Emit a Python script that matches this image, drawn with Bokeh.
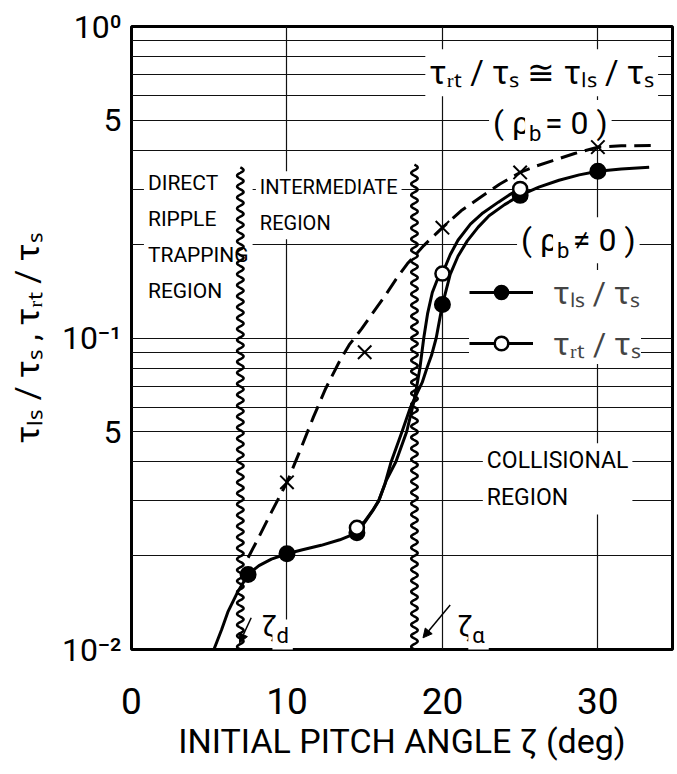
import numpy as np
from bokeh.plotting import figure
from bokeh.models import (Range1d, FixedTicker, ColumnDataSource, Legend, LegendItem,
                          Arrow, NormalHead)
from bokeh.core.properties import value
from bokeh.embed import file_html
from bokeh.resources import INLINE

FONT = "Roboto"

# ---------------------------------------------------------------- data points
# tau_ls / tau_s  (rho_b != 0), filled circles
zeta_ls = [7.5, 10.0, 14.5, 20.0, 25.0, 30.0]
ratio_ls = [0.0174, 0.0203, 0.0237, 0.128, 0.287, 0.343]
# tau_rt / tau_s  (rho_b != 0), open circles
zeta_rt = [14.5, 20.0, 25.0]
ratio_rt = [0.0246, 0.161, 0.301]
# tau_rt / tau_s = tau_ls / tau_s  (rho_b = 0), crosses
zeta_rb0 = [10.0, 15.0, 20.0, 25.0, 30.0]
ratio_rb0 = [0.0344, 0.090, 0.226, 0.340, 0.410]

# ------------------------------------------------------ hand-drawn fit curves
fit_ls_zeta = [5.3, 5.8, 6.2, 6.8, 7.5, 8.2, 9.0, 10.0, 11.0, 12.2, 13.4, 14.5,
               15.0, 15.5, 15.9, 16.3, 16.7, 17.4, 17.95, 18.4, 18.7, 19.0, 19.3,
               19.6, 20.0, 20.5, 21.0, 21.6, 22.3, 23.0, 24.0, 25.0, 26.2, 27.5,
               28.8, 30.0, 31.5, 33.3]
fit_ls_ratio = [0.0100, 0.0116, 0.0132, 0.0152, 0.0174, 0.0186, 0.0195, 0.0203,
                0.0209, 0.0216, 0.0225, 0.0237, 0.0256, 0.0278, 0.0300, 0.0340,
                0.0400, 0.0500, 0.0600, 0.0670, 0.0720, 0.0800, 0.0880, 0.1000,
                0.1280, 0.1600, 0.1830, 0.2050, 0.2270, 0.2470, 0.2680, 0.2870,
                0.3050, 0.3210, 0.3340, 0.3430, 0.3490, 0.3530]
fit_rt_zeta = [14.5, 15.0, 15.5, 15.9, 16.4, 17.0, 17.7, 18.15, 18.35, 18.55,
               18.8, 19.05, 19.35, 19.65, 20.0, 20.5, 21.0, 21.8, 22.6, 23.6,
               24.3, 25.0]
fit_rt_ratio = [0.0246, 0.0258, 0.0279, 0.0300, 0.0350, 0.0400, 0.0500, 0.0620,
                0.0700, 0.0800, 0.1000, 0.1200, 0.1400, 0.1530, 0.1610, 0.1850,
                0.2060, 0.2320, 0.2520, 0.2730, 0.2880, 0.3010]
fit_rb0_zeta = [7.5, 8.2, 9.0, 10.0, 10.8, 11.7, 12.5, 13.35, 14.0, 14.8, 15.5,
                16.24, 17.0, 17.74, 18.8, 20.0, 21.2, 22.45, 23.7, 25.0, 26.0,
                27.1, 28.5, 30.0, 31.5, 33.4]
fit_rb0_ratio = [0.0197, 0.0230, 0.0276, 0.0344, 0.0430, 0.0557, 0.0690, 0.0836,
                 0.0950, 0.1070, 0.1200, 0.1350, 0.1540, 0.1730, 0.1980, 0.2260,
                 0.2560, 0.2830, 0.3120, 0.3400, 0.3560, 0.3710, 0.3910, 0.4100,
                 0.4140, 0.4150]

# region boundaries zeta_d and zeta_alpha (deg) and the height they are drawn to
boundary_zeta = [7.0, 18.2]
boundary_top = [0.353, 0.36]

# axes
x_ticks = [0, 10, 20, 30]
x_grid = [10, 20, 30]
y_ticks = [0.01, 0.05, 0.1, 0.5, 1.0]
y_tick_labels = ["10\u207b\u00b2", "5", "10\u207b\u00b9", "5", "10\u2070"]
y_grid = [k * 0.01 for k in range(2, 10)] + [k * 0.1 for k in range(1, 10)]

p = figure(width=677, height=774, x_range=Range1d(0, 34.8), y_range=Range1d(0.01, 1.0),
           y_axis_type="log", output_backend="svg", toolbar_location=None,
           min_border_left=131, min_border_right=5, min_border_top=26,
           min_border_bottom=125)
p.background_fill_color = "white"
p.border_fill_color = "white"
p.outline_line_color = "black"
p.outline_line_width = 3

p.xgrid.ticker = FixedTicker(ticks=x_grid)
p.ygrid.ticker = FixedTicker(ticks=y_grid)
p.grid.grid_line_color = "#111111"
p.grid.grid_line_width = 1.2

for ax in (p.xaxis[0], p.yaxis[0]):
    ax.axis_line_color = None
    ax.major_tick_line_color = None
    ax.minor_tick_line_color = None
    ax.major_tick_out = 0
    ax.major_tick_in = 0
    ax.minor_tick_out = 0
    ax.major_label_text_font = FONT
    ax.axis_label_text_font = FONT
    ax.axis_label_text_font_style = "normal"
    ax.major_label_text_color = "black"
    ax.axis_label_text_color = "black"

p.xaxis.ticker = FixedTicker(ticks=x_ticks)
p.xaxis.major_label_text_font_size = "37px"
p.xaxis.major_label_standoff = 38
p.xaxis.axis_label = "INITIAL PITCH ANGLE \u03b6 (deg)"
p.xaxis.axis_label_text_font_size = "34px"
p.xaxis.axis_label_standoff = 4

p.yaxis.ticker = FixedTicker(ticks=y_ticks)
p.yaxis.major_label_overrides = dict(zip(y_ticks, y_tick_labels))
p.yaxis.major_label_text_font_size = "32px"
p.yaxis.major_label_standoff = 10
p.yaxis.axis_label = "\u03c4\u2097\u209b / \u03c4\u209b , \u03c4\u1d63\u209c / \u03c4\u209b"
p.yaxis.axis_label_text_font_size = "34px"
p.yaxis.axis_label_standoff = 12


def put_text(xs, ys, texts, size, dx=None, dy=None, bg=True, lh=1.2):
    n = len(texts)
    sizes = size if isinstance(size, list) else [size] * n
    src = ColumnDataSource(dict(x=xs, y=ys, text=texts, size=sizes,
                                dx=dx if dx is not None else [0] * n,
                                dy=dy if dy is not None else [0] * n))
    kw = dict(background_fill_color="white", padding=4) if bg else {}
    p.text(x="x", y="y", text="text", x_offset="dx", y_offset="dy", source=src,
           text_font=value(FONT), text_font_size="size", text_color="black",
           text_align="left", text_baseline="middle", text_line_height=lh, **kw)


# region names
put_text([0.8], [0.211], ["DIRECT\nRIPPLE\nTRAPPING\nREGION"], "21px", lh=1.5)
put_text([8.0], [0.267], ["INTERMEDIATE\nREGION"], "20px", lh=1.5)
put_text([22.6], [0.0353], ["COLLISIONAL\nREGION"], "23px", lh=1.35)

# equality note and rho_b conditions
put_text([18.9], [0.71], ["\u03c4\u1d63\u209c / \u03c4\u209b \u2245 \u03c4\u2097\u209b / \u03c4\u209b"], "33px")
put_text([23.0, 23.0, 23.0], [0.49, 0.49, 0.49], ["( \u03c1", "b", "= 0 )"],
         ["32px", "22px", "32px"], dx=[0, 36, 52], dy=[0, 10, 0])
put_text([24.8, 24.8, 24.8], [0.206, 0.206, 0.206], ["( \u03c1", "b", "\u2260 0 )"],
         ["32px", "22px", "32px"], dx=[0, 36, 52], dy=[0, 10, 0])

# zeta_d and zeta_alpha markers
put_text([8.1, 8.1], [0.0119, 0.0119], ["\u03b6", "d"], ["30px", "22px"],
         dx=[0, 15], dy=[0, 10])
put_text([20.7, 20.7], [0.0119, 0.0119], ["\u03b6", "\u03b1"], ["30px", "22px"],
         dx=[0, 15], dy=[0, 10])
p.add_layout(Arrow(end=NormalHead(size=9, fill_color="black", line_color="black"),
                   x_start=7.7, y_start=0.01265, x_end=6.95, y_end=0.0105,
                   line_width=1.5, line_color="black"))
p.add_layout(Arrow(end=NormalHead(size=9, fill_color="black", line_color="black"),
                   x_start=20.5, y_start=0.0139, x_end=18.75, y_end=0.0109,
                   line_width=1.5, line_color="black"))

# wavy region boundaries
for z0, top in zip(boundary_zeta, boundary_top):
    t = np.linspace(0.0, 1.0, 900)
    ly = np.log10(top) + (-2.0 - np.log10(top)) * t
    xs = z0 + 0.21 * np.sin(2 * np.pi * 44 * t)
    p.line(xs, 10 ** ly, line_color="black", line_width=2.5)

# fitted curves
rb0_line = p.line(fit_rb0_zeta, fit_rb0_ratio, line_color="black", line_width=3,
                  line_dash="17 8")
ls_line = p.line(fit_ls_zeta, fit_ls_ratio, line_color="black", line_width=3)
rt_line = p.line(fit_rt_zeta, fit_rt_ratio, line_color="black", line_width=3)

# measured points
p.scatter(zeta_rb0, ratio_rb0, marker="x", size=19, line_color="black", line_width=2)
ls_pts = p.scatter(zeta_ls, ratio_ls, marker="circle", size=15, fill_color="black",
                   line_color="black", line_width=2)
rt_pts = p.scatter(zeta_rt, ratio_rt, marker="circle", size=14, fill_color="white",
                   line_color="black", line_width=2.5)

legend = Legend(items=[
    LegendItem(label="\u03c4\u2097\u209b / \u03c4\u209b", renderers=[ls_line, ls_pts]),
    LegendItem(label="\u03c4\u1d63\u209c / \u03c4\u209b", renderers=[rt_line, rt_pts]),
], location=(338, 285))
legend.label_text_font = FONT
legend.label_text_font_size = "32px"
legend.glyph_width = 64
legend.glyph_height = 34
legend.label_standoff = 20
legend.spacing = 8
legend.padding = 2
legend.margin = 0
legend.border_line_color = None
legend.background_fill_color = "white"
legend.background_fill_alpha = 1.0
p.add_layout(legend)

open("out.html", "w").write(file_html(p, INLINE))
